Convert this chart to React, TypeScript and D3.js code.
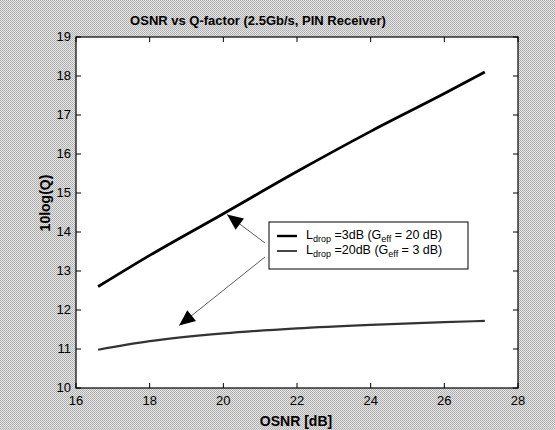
import React, { useEffect, useRef } from 'react';
import * as d3 from 'd3';

const osnr = [16.6, 18, 20, 22, 24, 26, 27.1];
const qDrop3 = [12.6, 13.4, 14.47, 15.55, 16.58, 17.55, 18.1];
const qDrop20 = [10.98, 11.2, 11.4, 11.53, 11.62, 11.69, 11.72];
const xTicks = [16, 18, 20, 22, 24, 26, 28];
const yTicks = [10, 11, 12, 13, 14, 15, 16, 17, 18, 19];

const App = () => {
    const svgRef = useRef<SVGSVGElement>(null);

    useEffect(() => {
        const svg = d3.select(svgRef.current);
        svg.selectAll('*').remove();
        const width = 555;
        const height = 430;
        const m = { left: 76, right: 518, top: 37, bottom: 388 };
        const font = 'Liberation Sans, Arial, sans-serif';

        // dithered grey background like the scan
        const defs = svg.append('defs');
        const pat = defs.append('pattern').attr('id', 'dither')
            .attr('width', 2).attr('height', 2).attr('patternUnits', 'userSpaceOnUse');
        pat.append('rect').attr('width', 2).attr('height', 2).attr('fill', '#e6e6e6');
        pat.append('rect').attr('width', 1).attr('height', 1).attr('fill', '#aaaaaa');
        pat.append('rect').attr('x', 1).attr('y', 1).attr('width', 1).attr('height', 1).attr('fill', '#b4b4b4');
        svg.append('rect').attr('width', width).attr('height', height).attr('fill', 'url(#dither)');

        const x = d3.scaleLinear().domain([16, 28]).range([m.left, m.right]);
        const y = d3.scaleLinear().domain([10, 19]).range([m.bottom, m.top]);

        svg.append('rect')
            .attr('x', m.left).attr('y', m.top)
            .attr('width', m.right - m.left).attr('height', m.bottom - m.top)
            .attr('fill', '#fff').attr('stroke', '#000').attr('stroke-width', 1.2);

        const tick = 5;
        const g = svg.append('g').attr('stroke', '#000').attr('stroke-width', 1);
        xTicks.forEach((t) => {
            g.append('line').attr('x1', x(t)).attr('x2', x(t)).attr('y1', m.bottom).attr('y2', m.bottom - tick);
            g.append('line').attr('x1', x(t)).attr('x2', x(t)).attr('y1', m.top).attr('y2', m.top + tick);
        });
        yTicks.forEach((t) => {
            g.append('line').attr('x1', m.left).attr('x2', m.left + tick).attr('y1', y(t)).attr('y2', y(t));
            g.append('line').attr('x1', m.right).attr('x2', m.right - tick).attr('y1', y(t)).attr('y2', y(t));
        });

        svg.selectAll('.xt').data(xTicks).enter().append('text')
            .attr('x', (d) => x(d)).attr('y', 405)
            .attr('text-anchor', 'middle')
            .style('font-family', font).style('font-size', '13px')
            .text((d) => d);
        svg.selectAll('.yt').data(yTicks).enter().append('text')
            .attr('x', 71).attr('y', (d) => y(d) + 4)
            .attr('text-anchor', 'end')
            .style('font-family', font).style('font-size', '13px')
            .text((d) => d);

        svg.append('text').attr('x', 258).attr('y', 25).attr('text-anchor', 'middle')
            .style('font-family', font).style('font-size', '13px').style('font-weight', 600)
            .text('OSNR vs Q-factor (2.5Gb/s, PIN Receiver)');
        svg.append('text').attr('x', 296).attr('y', 426).attr('text-anchor', 'middle')
            .style('font-family', font).style('font-size', '14px').style('font-weight', 600)
            .text('OSNR [dB]');
        svg.append('text')
            .attr('transform', 'translate(50,203) rotate(-90)')
            .attr('text-anchor', 'middle')
            .style('font-family', font).style('font-size', '14px').style('font-weight', 600)
            .text('10log(Q)');

        const line = d3.line<number>()
            .x((_, i) => x(osnr[i]))
            .curve(d3.curveMonotoneX);

        svg.append('path').datum(qDrop3)
            .attr('d', line.y((d) => y(d)))
            .attr('fill', 'none').attr('stroke', '#000').attr('stroke-width', 2.8);
        svg.append('path').datum(qDrop20)
            .attr('d', line.y((d) => y(d)))
            .attr('fill', 'none').attr('stroke', '#333').attr('stroke-width', 2.2);

        // annotation arrows from legend to curves
        const arrow = (x1: number, y1: number, x2: number, y2: number) => {
            svg.append('line').attr('x1', x1).attr('y1', y1).attr('x2', x2).attr('y2', y2)
                .attr('stroke', '#333').attr('stroke-width', 0.8);
            const ang = Math.atan2(y2 - y1, x2 - x1);
            const len = 16, half = 7;
            const bx = x2 - len * Math.cos(ang), by = y2 - len * Math.sin(ang);
            const px = -Math.sin(ang) * half, py = Math.cos(ang) * half;
            svg.append('path')
                .attr('d', `M${x2},${y2}L${bx + px},${by + py}L${bx - px},${by - py}Z`)
                .attr('fill', '#000');
        };
        arrow(265, 243, x(20.1), y(14.45));
        arrow(265, 257, x(18.8), y(11.6));

        // legend
        const lg = svg.append('g');
        lg.append('rect').attr('x', 269).attr('y', 222).attr('width', 199).attr('height', 47)
            .attr('fill', '#fff').attr('stroke', '#000').attr('stroke-width', 1);
        const entries = [
            { drop: '=3dB (G', eff: '= 20 dB)', color: '#000', w: 2.4 },
            { drop: '=20dB (G', eff: '= 3 dB)', color: '#444', w: 2 },
        ];
        entries.forEach((e, i) => {
            const yy = 236 + i * 15;
            lg.append('line').attr('x1', 277).attr('x2', 297).attr('y1', yy).attr('y2', yy)
                .attr('stroke', e.color).attr('stroke-width', e.w);
            const t = lg.append('text').attr('x', 306).attr('y', yy + 3)
                .style('font-family', font).style('font-size', '12.5px');
            t.append('tspan').text('L');
            t.append('tspan').attr('dy', 3).style('font-size', '9px').text('drop');
            t.append('tspan').attr('dy', -3).text(' ' + e.drop);
            t.append('tspan').attr('dy', 3).style('font-size', '9px').text('eff');
            t.append('tspan').attr('dy', -3).text(' ' + e.eff);
        });
    }, []);

    return (
        <svg ref={svgRef} width={555} height={430}
            style={{ position: 'absolute', left: 0, top: 0 }} />
    );
};

export default App;
